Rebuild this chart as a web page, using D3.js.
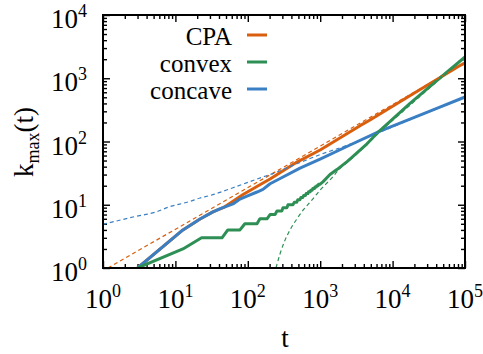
<!DOCTYPE html>
<html><head><meta charset="utf-8">
<script src="https://cdn.jsdelivr.net/npm/d3@7"></script>
<style>
body{margin:0;background:#fff}
svg{display:block}
svg text{font-family:"Liberation Serif","DejaVu Serif","Noto Serif","Tinos","Times New Roman","Times","FreeSerif","Nimbus Roman","Noto Serif CJK SC",serif}
</style>
</head><body>
<svg id="c" width="483" height="354"></svg>
<script>
// ---- data ----
const xExps = [0, 1, 2, 3, 4, 5];
const yExps = [0, 1, 2, 3, 4];
const seriesNames = ["CPA", "convex", "concave"];
const seriesColors = ["#d95f0e", "#2e8f55", "#3a7fc3"];

const cpaT = [3, 12.7, 21.9, 33, 45.6, 56.8, 86, 162, 203, 478, 997, 3550, 4880, 20000, 85300, 100000];
const cpaK = [1, 4, 5.95, 7.7, 9.0, 10.6, 14.5, 22.1, 25.5, 47.3, 73.5, 178, 219, 585, 1590, 1745];
const cpaFitT = [1.17, 100000];
const cpaFitK = [1, 1745];

const convT = [3, 12.7, 23, 44, 53, 78, 91, 134, 147, 184, 203, 238, 253, 296, 306, 348, 359, 420,
  440, 475, 490, 525, 540, 575, 590, 625, 640, 675, 690, 725, 740, 775, 790, 830, 845, 880, 895, 935,
  950, 990, 1090, 1365, 1700, 2350, 2840, 4430, 6500, 17400, 49700, 100000];
const convK = [1, 2, 3, 3, 4, 4, 5, 5, 6, 6, 7, 7, 8, 8, 9, 9, 10, 10,
  11, 11, 12, 12, 13, 13, 14, 14, 15, 15, 16, 16, 17, 17, 18, 18, 19, 19, 20, 20,
  21, 21, 23, 30, 36, 48, 58, 92, 145, 400, 1110, 2170];
const convFitT = [245, 280, 320, 383, 478, 580, 750, 997, 1400, 1860, 2840, 4430, 6500, 17400, 49700, 100000];
const convFitK = [1, 1.7, 2.6, 4.0, 6.0, 8.2, 11.5, 17, 25.5, 37, 56, 90, 138, 375, 1080, 2170];

const concT = [3, 12.7, 21.9, 33, 41, 62.5, 78, 97.5, 134, 162, 203, 280, 526, 997, 2582, 6700, 17400, 45000, 100000];
const concK = [1, 4.0, 5.95, 7.7, 8.6, 10.3, 12.3, 13.7, 15.9, 17.5, 21.5, 26, 38, 52.7, 88, 146, 226, 350, 505];
const concFitT = [1, 2.6, 5.6, 7.65, 15.9, 21.9, 30, 62.5, 162, 203, 526, 997, 2350, 6130, 17400, 45000, 100000];
const concFitK = [4.9, 6.4, 7.8, 9.0, 11.3, 12.8, 14, 18.6, 27.5, 30, 46.5, 62, 87, 135, 222, 345, 500];

// ---- layout ----
const L = 103, R = 465, T = 15, B = 268;
const svg = d3.select("#c");
const x = d3.scaleLog().domain([1, 1e5]).range([L, R]);
const y = d3.scaleLog().domain([1, 1e4]).range([B, T]);

svg.append("defs").append("clipPath").attr("id", "clip")
  .append("rect").attr("x", L).attr("y", T).attr("width", R - L).attr("height", B - T);

const isMajor = v => Math.abs(Math.log10(v) - Math.round(Math.log10(v))) < 1e-9;
const xMajor = xExps.map(e => Math.pow(10, e));
const yMajor = yExps.map(e => Math.pow(10, e));
const xMinor = x.ticks().filter(v => !isMajor(v));
const yMinor = y.ticks().filter(v => !isMajor(v));

function ax(gen, tr, vals, size) {
  const g = svg.append("g").attr("transform", tr)
    .call(gen.tickValues(vals).tickSizeInner(size).tickSizeOuter(0).tickFormat(""));
  g.select(".domain").remove();
  g.selectAll("line").attr("stroke", "#000").attr("stroke-width", 1.4);
}
ax(d3.axisBottom(x), `translate(0,${B})`, xMajor, -7);
ax(d3.axisBottom(x), `translate(0,${B})`, xMinor, -4);
ax(d3.axisTop(x), `translate(0,${T})`, xMajor, -7);
ax(d3.axisTop(x), `translate(0,${T})`, xMinor, -4);
ax(d3.axisLeft(y), `translate(${L},0)`, yMajor, -7);
ax(d3.axisLeft(y), `translate(${L},0)`, yMinor, -4);
ax(d3.axisRight(y), `translate(${R},0)`, yMajor, -7);
ax(d3.axisRight(y), `translate(${R},0)`, yMinor, -4);

// ---- curves ----
const lineLin = d3.line().x(d => x(d[0])).y(d => y(d[1]));
const lineSmooth = d3.line().curve(d3.curveMonotoneX).x(d => x(d[0])).y(d => y(d[1]));
const plot = svg.append("g").attr("clip-path", "url(#clip)");

function solid(ts, ks, color) {
  plot.append("path").datum(d3.zip(ts, ks)).attr("d", lineLin)
    .attr("fill", "none").attr("stroke", color).attr("stroke-width", 3)
    .attr("stroke-linejoin", "round").attr("stroke-linecap", "butt");
}
function dashed(ts, ks, color) {
  plot.append("path").datum(d3.zip(ts, ks)).attr("d", lineSmooth)
    .attr("fill", "none").attr("stroke", color).attr("stroke-width", 1.2)
    .attr("stroke-dasharray", "4,3");
}
solid(cpaT, cpaK, seriesColors[0]);
solid(concT, concK, seriesColors[2]);
solid(convT, convK, seriesColors[1]);
dashed(cpaFitT, cpaFitK, seriesColors[0]);
dashed(concFitT, concFitK, seriesColors[2]);
dashed(convFitT, convFitK, seriesColors[1]);

// ---- frame ----
svg.append("rect").attr("x", L).attr("y", T).attr("width", R - L).attr("height", B - T)
  .attr("fill", "none").attr("stroke", "#000").attr("stroke-width", 2);

// ---- tick labels ----
xExps.forEach(e => {
  const t = svg.append("text").attr("x", x(Math.pow(10, e))).attr("y", 308)
    .attr("text-anchor", "middle").attr("font-size", 27).text("10");
  t.append("tspan").attr("font-size", 18).attr("dy", -11).text(e);
});
yExps.forEach(e => {
  const t = svg.append("text").attr("x", 87).attr("y", y(Math.pow(10, e)) + 13)
    .attr("text-anchor", "end").attr("font-size", 27).text("10");
  t.append("tspan").attr("font-size", 18).attr("dy", -11).text(e);
});

// ---- axis titles ----
svg.append("text").attr("x", 285).attr("y", 347).attr("text-anchor", "middle")
  .attr("font-size", 27).text("t");
const yt = svg.append("text").attr("transform", "translate(33,142) rotate(-90)")
  .attr("text-anchor", "middle").attr("font-size", 27).text("k");
yt.append("tspan").attr("font-size", 18).attr("dy", 6).text("max");
yt.append("tspan").attr("font-size", 27).attr("dy", -6).text("(t)");

// ---- legend ----
seriesNames.forEach((n, i) => {
  svg.append("text").attr("x", 232).attr("y", 45 + 27 * i).attr("text-anchor", "end")
    .attr("font-size", 25).text(n);
  svg.append("line").attr("x1", 247).attr("x2", 267)
    .attr("y1", 35 + 27 * i).attr("y2", 35 + 27 * i)
    .attr("stroke", seriesColors[i]).attr("stroke-width", 3);
});
</script>
</body></html>
